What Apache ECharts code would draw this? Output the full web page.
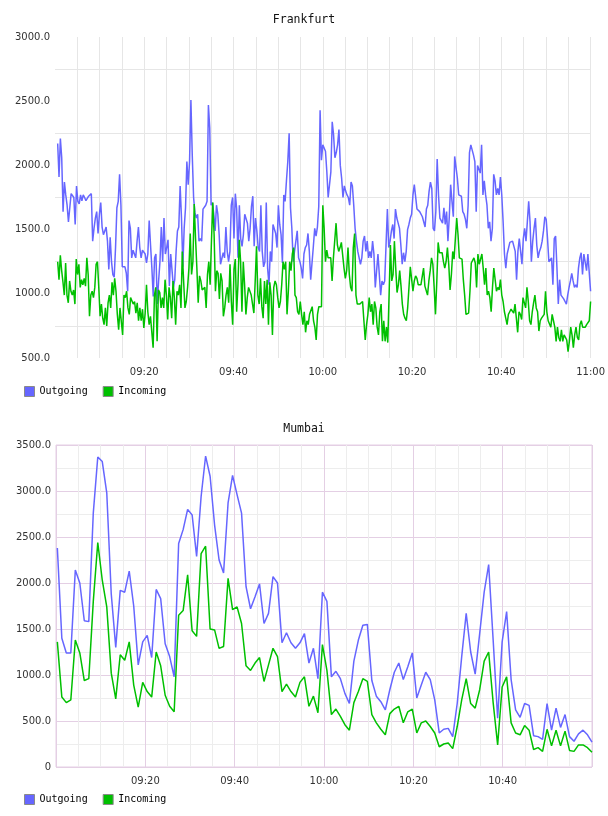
<!DOCTYPE html>
<html>
<head>
<meta charset="utf-8">
<script src="https://cdn.jsdelivr.net/npm/echarts@6/dist/echarts.min.js"></script>
<style>
  html, body { margin: 0; padding: 0; background: #fff; }
  #chart { width: 608px; height: 816px; }
</style>
</head>
<body>
<div id="chart"></div>
<script>
// time axis is in minutes after 09:00
const legendNames = ['Outgoing', 'Incoming']
const titles = ['Frankfurt', 'Mumbai']

// Frankfurt, sampled about every 20 s from 09:00:36 to 11:00
const frankfurtStart = 0.6
const frankfurtEnd = 120
const frankfurtOut = [
  2170, 1910, 2210, 2060, 1640, 1870, 1770, 1690, 1560, 1670,
  1780, 1780, 1750, 1540, 1840, 1720, 1700, 1770, 1725, 1770,
  1750, 1725, 1740, 1760, 1770, 1780, 1410, 1510, 1590, 1640,
  1470, 1620, 1710, 1520, 1460, 1490, 1520, 1410, 1190, 1440,
  1250, 1150, 1130, 1360, 1670, 1720, 1930, 1690, 1210, 1200,
  1210, 1160, 1020, 1570, 1510, 1280, 1340, 1330, 1280, 1410,
  1520, 1360, 1280, 1340, 1340, 1310, 1240, 1310, 1570, 1380,
  1200, 980, 1280, 1310, 920, 1100, 1250, 1520, 1250, 1590,
  1310, 1360, 1420, 1060, 1310, 1320, 1050, 1110, 1330, 1490,
  1520, 1840, 1590, 1210, 1510, 1670, 2030,
  1850, 2030, 2510, 2080, 1750, 1630, 1590, 1620, 1410, 1430,
  1410, 1660, 1670, 1690, 1720, 2470, 2290, 1690, 1710, 1620,
  1490, 1690, 1620, 1460, 1230, 1240, 1320, 1280, 1520, 1330,
  1250, 1330, 1690, 1750, 1430, 1780, 1660, 1280, 1690, 1430,
  1370, 1460, 1620, 1630, 1550, 1410, 1510, 1680, 1760, 1370,
  1590, 1490, 1360, 1330, 1690, 1330, 1210, 1250, 1710, 1200,
  1070, 1330, 1250, 1540, 1550, 1470, 1360, 1690, 1540, 1460,
  1240, 1770, 1720, 1880, 2030, 2250, 1670, 1510, 1250, 1330,
  1410, 1490, 1280, 1250, 1200, 1120, 1310, 1360, 1380, 1470,
  1330, 1110, 1100, 1370, 1510, 1450, 1520, 1680, 2430,
  2040, 2160, 2150, 2110, 1950, 1750, 1850, 1950, 2340, 2240,
  2060, 2100, 2160, 2280, 2000, 1900, 1750, 1840, 1800, 1770,
  1750, 1690, 1870, 1840, 1690, 1510, 1410, 1330, 1320, 1230,
  1280, 1410, 1450, 1330, 1410, 1280, 1330, 1280, 1410, 1310,
  1050, 1180, 1310, 1150, 990, 1100, 1070, 1100, 1380, 1660,
  1360, 1410, 1490, 1540, 1430, 1660, 1590, 1550, 1510, 1380,
  1230, 1320, 1250, 1330, 1500, 1540, 1590, 1620, 1770, 1850,
  1860, 1660, 1660, 1640, 1630, 1600, 1560, 1520, 1660, 1690,
  1800, 1870, 1820, 1510, 1490, 1640, 2050, 1770, 1590, 1580,
  1550, 1670, 1540, 1640, 1410, 1600, 1850, 1720, 1600, 2070,
  2080, 1900, 1770, 1770, 1760, 1640, 1620, 1580, 1510, 1690,
  2100, 2160, 2170, 2080, 2030, 1640, 2000, 1990, 1940, 2160,
  1770, 1880, 1770, 1690, 1510, 1560, 1410, 1510, 1930, 1880,
  1770, 1820, 1770, 1910, 1770, 1560, 1310, 1200, 1310, 1310,
  1400, 1400, 1410, 1420, 1330, 1110, 1330, 1430, 1330, 1230,
  1430, 1510, 1410, 1560, 1720, 1560, 1250, 1410, 1510, 1590,
  1380, 1280, 1330, 1360, 1410, 1490, 1600, 1580, 1430, 1250,
  1250, 1280, 1070, 1430, 1450, 1200, 920, 1110, 990, 980,
  960, 940, 920, 990, 1050, 1100, 1160, 1100, 1050, 1070,
  1050, 1200, 1280, 1320, 1150, 1310, 1310, 1180, 1310, 1310, 1020
]
const frankfurtIn = [
  1250, 1110, 1300, 1180, 1090, 990, 1240, 990, 930, 1100,
  1020, 990, 1030, 920, 1270, 1150, 1230, 1050, 1110, 1070,
  1120, 1060, 1280, 1150, 825, 990, 1020, 970, 1050, 1230,
  1250, 1050, 825, 920, 810, 760, 890, 750, 930, 990,
  890, 1090, 990, 1120, 1020, 840, 720, 890, 890, 680,
  990, 970, 1020, 890, 840, 970, 980, 920, 940, 850,
  930, 790, 890, 790, 880, 735, 850, 1070, 860, 760,
  825, 820, 580, 990, 1050, 630, 1030, 1010, 890, 970,
  890, 1110, 990, 800, 1050, 970, 810, 1100, 970, 760,
  1020, 990, 1070, 890, 1330, 1100, 890, 940, 1050, 1200, 1470,
  1150, 1250, 1700, 1430, 1200, 930, 1140, 1100, 1030, 1020,
  1050, 890, 1150, 1250, 1070, 1410, 1710, 1460, 1020, 1180,
  1160, 960, 1160, 1100, 825, 890, 990, 1050, 930, 1230,
  940, 760, 1190, 1270, 860, 1070, 1420, 1250, 860, 1250,
  1070, 840, 970, 1050, 1060, 990, 920, 850, 1100, 1370,
  990, 920, 1120, 900, 810, 1100, 920, 1110, 760, 1090,
  990, 680, 1050, 1100, 1070, 970, 890, 940, 1070, 1250,
  1190, 1250, 840, 1020, 1250, 1180, 1310, 1360, 990, 970,
  860, 840, 940, 840, 760, 860, 700, 790, 760, 840,
  840, 900, 790, 740, 640, 840, 900, 890, 900, 1690,
  1510, 1250, 1340, 1280, 1290, 1280, 1100, 1280, 1280, 1550,
  1380, 1330, 1360, 1400, 1410, 1200, 1120, 1180, 1360, 1150,
  1050, 1020, 1360, 1470, 990, 920, 910, 920, 910, 940,
  790, 640, 760, 840, 970, 860, 920, 760, 940, 890,
  740, 680, 860, 920, 630, 790, 630, 740, 620, 990,
  1380, 1100, 1150, 1410, 1200, 1010, 1070, 1180, 1060, 920,
  840, 810, 790, 890, 890, 1210, 1200, 1020, 1100, 1140,
  1120, 1070, 1060, 1070, 1070, 1200, 1060, 1050, 990, 1100,
  1180, 1280, 1230, 1050, 840, 1100, 1400, 1320, 1310, 1320,
  1250, 1200, 1250, 1360, 1230, 1030, 1150, 1330, 1270, 1430, 1590,
  1460, 1280, 1280, 1270, 1110, 990, 840, 850, 850, 1020,
  1240, 1250, 1280, 1240, 1050, 1310, 1230, 1230, 1310, 1200,
  1070, 1200, 990, 1020, 970, 860, 1050, 1200, 1110, 1020,
  1050, 1030, 1110, 990, 940, 860, 810, 760, 840, 860,
  880, 890, 850, 920, 810, 700, 860, 840, 800, 970,
  960, 890, 1050, 940, 790, 760, 860, 930, 990, 890,
  860, 710, 790, 810, 820, 840, 1020, 860, 790, 790,
  740, 840, 790, 740, 630, 740, 660, 630, 720, 630,
  680, 660, 640, 550, 630, 740, 680, 580, 680, 740,
  660, 640, 760, 790, 740, 740, 740, 760, 760, 790, 940
]

// Mumbai, one sample a minute
const mumbaiStart = 0.3
const mumbaiEnd = 120
const mumbaiOut = [
  2380, 1400, 1240, 1240, 2140, 2000, 1590, 1580, 2760, 3370,
  3320, 2980, 1880, 1300, 1920, 1900, 2130, 1750, 1110, 1360,
  1430, 1190, 1930, 1830, 1340, 1200, 980, 2430, 2580, 2800,
  2740, 2290, 2940, 3380, 3160, 2630, 2250, 2110, 2870, 3170,
  2960, 2760, 1960, 1720, 1850, 1990, 1560, 1670, 2070, 2000,
  1350, 1460, 1350, 1290, 1350, 1450, 1130, 1290, 960, 1900,
  1800, 980, 1040, 960, 800, 690, 1150, 1380, 1540, 1550,
  940, 770, 710, 620, 840, 1030, 1130, 950, 1090, 1240,
  750, 890, 1030, 950, 730, 370, 410, 420, 330, 690,
  1200, 1670, 1250, 1010, 1450, 1900, 2200, 1380, 530, 1360,
  1690, 950, 620, 540, 690, 670, 340, 330, 300, 690,
  400, 640, 430, 570, 330, 280, 360, 400, 350, 270
]
const mumbaiIn = [
  1360, 760, 700, 730, 1380, 1240, 940, 960, 1800, 2440,
  2030, 1740, 1020, 740, 1220, 1160, 1360, 890, 650, 920,
  820, 760, 1250, 1100, 780, 660, 600, 1650, 1700, 2090,
  1480, 1420, 2320, 2400, 1500, 1490, 1290, 1310, 2050, 1710,
  1740, 1560, 1100, 1050, 1130, 1190, 930, 1110, 1290, 1200,
  820, 900, 820, 760, 920, 980, 660, 770, 590, 1330,
  1050, 570, 630, 550, 460, 400, 700, 820, 960, 930,
  570, 480, 410, 350, 580, 630, 660, 480, 600, 630,
  370, 480, 500, 440, 370, 220, 250, 260, 200, 440,
  730, 960, 690, 640, 840, 1150, 1250, 700, 240, 870,
  980, 480, 370, 350, 450, 400, 190, 210, 170, 410,
  230, 400, 230, 390, 180, 170, 240, 240, 210, 160
]

const outColor = '#6666ff'
const inColor = '#00c000'
const labelFont = { fontFamily: 'DejaVu Sans', fontSize: 10, color: '#333' }

function spread(values, t0, t1) {
  const step = (t1 - t0) / (values.length - 1)
  return values.map((v, i) => [t0 + i * step, v])
}

function pad(n) {
  return n < 10 ? '0' + n : '' + n
}

function clock(v) {
  return pad(9 + Math.floor(v / 60)) + ':' + pad(v % 60)
}

function yLabel(v) {
  return v === 0 ? '0' : v.toFixed(1)
}

function lineSeries(name, axis, data, color) {
  return {
    name: name,
    type: 'line',
    xAxisIndex: axis,
    yAxisIndex: axis,
    data: data,
    showSymbol: false,
    symbol: 'none',
    lineStyle: { color: color, width: 1.5 },
    itemStyle: { color: color },
    emphasis: { disabled: true },
  }
}

const chart = echarts.init(document.getElementById('chart'))

const gray = '#e6e6e6'
const pink = '#e4cfe4'
const minorGray = '#ededed'

chart.setOption({
  animation: false,
  backgroundColor: '#fff',
  title: [
    {
      text: titles[0], left: 'center', top: 14, padding: 0,
      textStyle: { fontFamily: 'DejaVu Sans Mono', fontSize: 11.5, fontWeight: 'normal', color: '#111' },
    },
    {
      text: titles[1], left: 'center', top: 423, padding: 0,
      textStyle: { fontFamily: 'DejaVu Sans Mono', fontSize: 11.5, fontWeight: 'normal', color: '#111' },
    },
  ],
  legend: [0, 1].map((k) => ({
    data: legendNames,
    left: 24,
    top: k === 0 ? 386 : 794,
    padding: 0,
    itemGap: 15,
    itemWidth: 10,
    itemHeight: 10,
    icon: 'rect',
    selectedMode: false,
    itemStyle: { borderColor: '#8a8a8a', borderWidth: 1 },
    textStyle: { fontFamily: 'DejaVu Sans Mono', fontSize: 10, color: '#000' },
  })),
  grid: [
    { left: 55, right: 17, top: 37, height: 321 },
    { left: 56, right: 16, top: 445, height: 322, show: true, borderColor: pink, borderWidth: 1 },
  ],
  xAxis: [
    {
      gridIndex: 0, type: 'value', min: 0, max: 120, interval: 20,
      axisLine: { show: false }, axisTick: { show: false },
      axisLabel: { ...labelFont, margin: 9, showMinLabel: false, formatter: clock },
      splitLine: { show: true, showMinLine: false, lineStyle: { color: gray } },
      minorTick: { show: false, splitNumber: 4 },
      minorSplitLine: { show: true, lineStyle: { color: gray } },
    },
    {
      gridIndex: 1, type: 'value', min: 0, max: 120, interval: 20,
      axisLine: { show: false }, axisTick: { show: false },
      axisLabel: { ...labelFont, margin: 9, showMinLabel: false, showMaxLabel: false, formatter: clock },
      splitLine: { show: true, lineStyle: { color: pink } },
      minorTick: { show: false, splitNumber: 4 },
      minorSplitLine: { show: true, lineStyle: { color: minorGray } },
    },
  ],
  yAxis: [
    {
      gridIndex: 0, type: 'value', min: 500, max: 3000, interval: 500,
      axisLine: { show: false }, axisTick: { show: false },
      axisLabel: { ...labelFont, margin: 5, formatter: yLabel },
      splitLine: { show: false },
      minorTick: { show: false, splitNumber: 2 },
      minorSplitLine: { show: true, lineStyle: { color: gray } },
    },
    {
      gridIndex: 1, type: 'value', min: 0, max: 3500, interval: 500,
      axisLine: { show: false }, axisTick: { show: false },
      axisLabel: { ...labelFont, margin: 5, formatter: yLabel },
      splitLine: { show: true, lineStyle: { color: pink } },
      minorTick: { show: false, splitNumber: 2 },
      minorSplitLine: { show: true, lineStyle: { color: minorGray } },
    },
  ],
  series: [
    lineSeries(legendNames[0], 0, spread(frankfurtOut, frankfurtStart, frankfurtEnd), outColor),
    lineSeries(legendNames[1], 0, spread(frankfurtIn, frankfurtStart, frankfurtEnd), inColor),
    lineSeries(legendNames[0], 1, spread(mumbaiOut, mumbaiStart, mumbaiEnd), outColor),
    lineSeries(legendNames[1], 1, spread(mumbaiIn, mumbaiStart, mumbaiEnd), inColor),
  ],
})
</script>
</body>
</html>
